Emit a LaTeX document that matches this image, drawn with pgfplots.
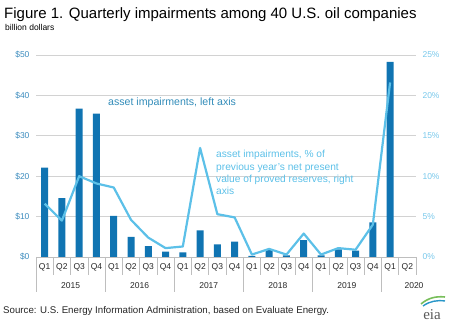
\documentclass[border=0pt]{standalone}
\usepackage{pgfplots}
\pgfplotsset{compat=1.18}
\usepackage{fontspec}
\setmainfont{Liberation Sans}
\newfontfamily\seriffont{Liberation Serif}
\definecolor{barblue}{RGB}{16,116,178}
\definecolor{lineblue}{RGB}{92,192,232}
\definecolor{lefttick}{RGB}{60,140,190}
\definecolor{righttick}{RGB}{120,200,235}
\definecolor{gridgray}{RGB}{210,210,210}
\definecolor{axgray}{RGB}{190,190,190}
\definecolor{annodark}{RGB}{50,140,185}
\begin{document}
\begin{tikzpicture}[x=1pt,y=1pt]
\useasboundingbox (0,0) rectangle (450,324);
% title
\node[anchor=base west,inner sep=0] at (4,305) {\fontsize{15}{17}\selectfont Figure 1. Quarterly impairments among 40 U.S. oil companies};
\node[anchor=base west,inner sep=0] at (5,293) {\fontsize{8.5}{9}\selectfont billion dollars};
\begin{axis}[
  at={(36pt,67pt)}, anchor=south west,
  width=380pt, height=202pt, scale only axis,
  xmin=-0.5, xmax=21.5, ymin=0, ymax=50,
  axis line style={draw=none},
  tick style={draw=none},
  ymajorgrids, grid style={gridgray, line width=0.8pt},
  ytick={0,10,20,30,40,50},
  yticklabels={\$0,\$10,\$20,\$30,\$40,\$50},
  yticklabel style={font=\fontsize{8.5}{10}\selectfont, text=lefttick, anchor=east, xshift=-3pt},
  xtick={0,...,21},
  xticklabels={Q1,Q2,Q3,Q4,Q1,Q2,Q3,Q4,Q1,Q2,Q3,Q4,Q1,Q2,Q3,Q4,Q1,Q2,Q3,Q4,Q1,Q2},
  xticklabel style={font=\fontsize{8.5}{10}\selectfont, text=black!85, anchor=north, yshift=-3pt},
  /pgf/number format/assume math mode=true,
  clip=false,
]
\addplot[ybar, bar width=7pt, fill=barblue, draw=none] coordinates {
(0,22.1) (1,14.6) (2,36.7) (3,35.5) (4,10.2) (5,5.0) (6,2.7) (7,1.3)
(8,1.15) (9,6.6) (10,3.1) (11,3.8) (12,0.3) (13,1.7) (14,0.4) (15,4.2)
(16,0.4) (17,1.9) (18,1.6) (19,8.6) (20,48.3)
};
\draw[axgray, line width=0.8pt] (axis cs:-0.5,0) -- (axis cs:21.5,0);
\node[anchor=west, inner sep=0, text=annodark, font=\fontsize{10.6}{12}\selectfont] at (axis cs:3.67,38.1) {asset impairments, left axis};
\node[anchor=north west, inner sep=0, text=lineblue, align=left, font=\fontsize{10.2}{12.3}\selectfont] at (axis cs:9.92,26.4) {asset impairments, \% of\\previous year's net present\\value of proved reserves, right\\axis};
\end{axis}
\begin{axis}[
  at={(36pt,67pt)}, anchor=south west,
  width=380pt, height=202pt, scale only axis,
  xmin=-0.5, xmax=21.5, ymin=0, ymax=25,
  axis x line=none,
  axis y line*=right,
  y axis line style={draw=none},
  tick style={draw=none},
  ytick={0,5,10,15,20,25},
  yticklabels={0\%,5\%,10\%,15\%,20\%,25\%},
  yticklabel style={font=\fontsize{8.5}{10}\selectfont, text=righttick, anchor=west, xshift=3pt},
  /pgf/number format/assume math mode=true,
]
\addplot[lineblue, line width=2.2pt, line join=round, mark=none] coordinates {
(0,6.6) (1,4.5) (2,10.0) (3,9.1) (4,8.6) (5,4.6) (6,2.4) (7,1.1)
(8,1.3) (9,13.5) (10,5.3) (11,4.9) (12,0.3) (13,1.0) (14,0.3) (15,2.9)
(16,0.3) (17,1.1) (18,0.9) (19,4.0) (20,21.6)
};
\end{axis}
% separators below axis
\foreach \i in {1,2,3,5,6,7,9,10,11,13,14,15,17,18,19,21}{
  \draw[axgray, line width=0.6pt] ({36+\i*380/22},67) -- ({36+\i*380/22},49);
}
\foreach \i in {0,4,8,12,16,20}{
  \draw[axgray, line width=0.6pt] ({36+\i*380/22},67) -- ({36+\i*380/22},32);
}
\draw[axgray, line width=0.6pt] (416,67) -- (416,49);
% years
\foreach \y/\c in {2015/1.5,2016/5.5,2017/9.5,2018/13.5,2019/17.5}{
  \node[font=\fontsize{8.5}{10}\selectfont, text=black!85] at ({36+(\c+0.5)*380/22},38) {\y};
}
\node[font=\fontsize{8.5}{10}\selectfont, text=black!85] at (414,38) {2020};
% source
\node[anchor=base west, inner sep=0, font=\fontsize{9.7}{11}\selectfont, text=black!85] at (3,10) {Source: U.S. Energy Information Administration, based on Evaluate Energy.};
% logo
\node[inner sep=0, font=\seriffont\fontsize{15}{16}\selectfont, text=black!65] at (432,9) {eia};
\draw[line width=1.6pt, color={rgb,255:red,120;green,190;blue,90}] (421,20) .. controls (428,26) and (436,28) .. (445,27);
\draw[line width=1.4pt, color={rgb,255:red,40;green,150;blue,200}] (423,18) .. controls (430,23) and (437,24) .. (445,23);
\end{tikzpicture}
\end{document}
